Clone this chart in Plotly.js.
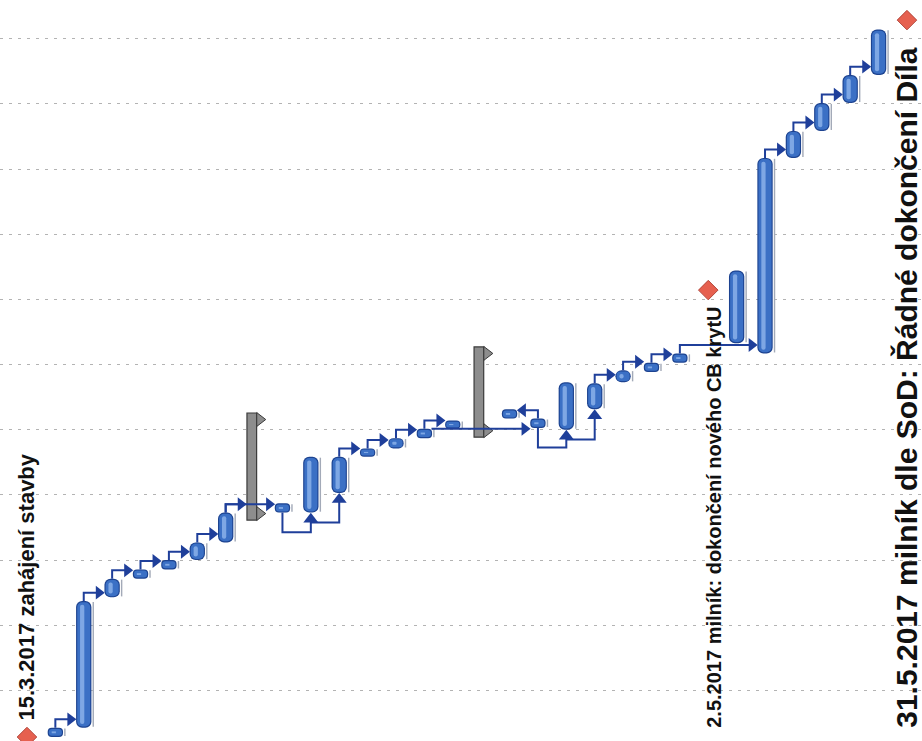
<!DOCTYPE html>
<html><head><meta charset="utf-8">
<script src="https://cdn.plot.ly/plotly-3.0.1.min.js"></script>
<style>html,body{margin:0;padding:0;background:#fff;} #chart{width:922px;height:741px;}</style>
</head><body><div id="chart"></div>
<script>
// Rotated Gantt chart. Time axis (vertical): days after 15.3.2017 (day 0).
// Horizontal axis: task row number of the original Gantt.
const gridDays = [5, 12, 19, 26, 33, 40, 47, 54, 61, 68, 75];

const taskCol   = [2, 3, 4, 5, 6, 7, 8, 10, 11, 12, 13, 14, 15, 16, 18, 19, 20, 21, 22, 23, 24, 26, 27, 28, 29, 30, 31];
const taskStart = [0.0, 1.0, 15.0, 17.0, 18.0, 19.0, 20.9, 24.1, 24.1, 26.2, 30.1, 31.0, 32.1, 33.1, 34.2, 33.2, 33.0, 35.2, 38.1, 39.2, 40.2, 42.3, 41.2, 62.2, 65.1, 68.1, 71.1];
const taskEnd   = [1.0, 14.6, 17.0, 18.0, 19.0, 20.9, 24.1, 25.1, 30.1, 30.1, 31.0, 32.1, 33.1, 34.0, 35.2, 34.2, 38.1, 38.0, 39.4, 40.2, 41.2, 50.1, 62.2, 65.1, 68.1, 71.1, 76.0];

const summaryCol   = [9, 17];
const summaryStart = [23.3, 32.2];
const summaryEnd   = [34.8, 41.9];

const milestoneCol   = [1, 25, 32];
const milestoneDay   = [0, 48, 77];
const milestoneLabel = ['15.3.2017 zahájení stavby',
                        '2.5.2017 milník: dokončení nového CB krytU',
                        '31.5.2017 milník dle SoD: Řádné dokončení Díla'];

const projectCol  = [0, 0];
const projectDays = [0, 77];

// dependency links: [from row, to row]
const fsLinks     = [[2,3],[3,4],[4,5],[5,6],[6,7],[7,8],[8,9],[8,10],[12,13],[13,14],[14,15],[15,16],
                     [19,18],[21,22],[22,23],[23,24],[24,27],[27,28],[28,29],[29,30],[30,31]];
const directLinks = [[15,19]];
const ssLinks     = [[10,11],[11,12],[19,20],[20,21]];

// ---------------------------------------------------------------
function startOf(c){ let i = taskCol.indexOf(c); if (i >= 0) return taskStart[i]; return summaryStart[summaryCol.indexOf(c)]; }
function endOf(c){ let i = taskCol.indexOf(c); if (i >= 0) return taskEnd[i]; return summaryEnd[summaryCol.indexOf(c)]; }

const durs = taskStart.map((s, i) => taskEnd[i] - s);

function capsule(width, offset, color, radius, shrink){
  return {type:'bar', x:taskCol, base:taskStart.map(s => s + shrink), y:durs.map(d => Math.max(d - 2 * shrink, 0.12)),
          width:width, offset:offset, marker:{color:color, cornerradius:radius, line:{width:0}},
          hoverinfo:'skip', showlegend:false};
}

const traces = [];

// summary bars (grey)
traces.push({type:'bar', x:summaryCol, base:summaryStart, y:summaryStart.map((s,i)=>summaryEnd[i]-s),
  width:0.34, offset:-0.25, marker:{color:'#8d8d8d', line:{color:'#3a3a3a', width:1.2}},
  hoverinfo:'skip', showlegend:false});

// task shadow line
traces.push({type:'bar', x:taskCol, base:taskStart.map(s=>s+0.1), y:durs.map(d=>Math.max(d-0.2,0.1)),
  width:0.05, offset:0.31, marker:{color:'#a3aab8', line:{width:0}}, hoverinfo:'skip', showlegend:false});

// task capsules
traces.push(capsule(0.54, -0.27, '#1d4390', 6, 0));
traces.push(capsule(0.46, -0.23, '#3b70c5', 5, 0.13));
traces.push(capsule(0.15, -0.13, '#7ea7e4', 3, 0.4));

// summary end caps
const capX = [], capY = [];
summaryCol.forEach((c, i) => { capX.push(c + 0.2, c + 0.2); capY.push(summaryEnd[i] - 0.7, summaryStart[i] + 0.7); });
traces.push({type:'scatter', mode:'markers', x:capX, y:capY,
  marker:{symbol:'triangle-right', size:12, color:'#8d8d8d', line:{color:'#3a3a3a', width:1}},
  hoverinfo:'skip', showlegend:false});

// links
const LIFT = 0.9, AOFF = 0.47, DROP = 2.1, UPOFF = 0.7;
const lx = [], ly = [];
const aR = {x:[], y:[]}, aL = {x:[], y:[]}, aU = {x:[], y:[]};
fsLinks.forEach(([a, b]) => {
  const y0 = endOf(a), y1 = y0 + LIFT, dir = b > a ? 1 : -1, xe = b - dir * AOFF;
  lx.push(a, a, xe, null); ly.push(y0, y1, y1, null);
  const t = dir > 0 ? aR : aL; t.x.push(xe); t.y.push(y1);
});
directLinks.forEach(([a, b]) => {
  const y0 = endOf(a), xe = b - AOFF;
  lx.push(a + 0.25, xe, null); ly.push(y0, y0, null);
  aR.x.push(xe); aR.y.push(y0);
});
const ssTargets = ssLinks.map(l => l[1]);
ssLinks.forEach(([a, b]) => {
  const sa = startOf(a), sb = startOf(b);
  const hasIn = ssTargets.includes(a);
  const yh = hasIn ? sa - UPOFF - 0.35 : sa - DROP;
  const y0 = hasIn ? yh : sa;
  const ya = sb - UPOFF;
  lx.push(a, a, b, b, null); ly.push(y0, yh, yh, ya, null);
  aU.x.push(b); aU.y.push(ya);
});
const linkColor = '#1f3f9a';
traces.push({type:'scatter', mode:'lines', x:lx, y:ly, line:{color:linkColor, width:2},
  hoverinfo:'skip', showlegend:false, connectgaps:false});
traces.push({type:'scatter', mode:'markers', x:aR.x, y:aR.y, marker:{symbol:'triangle-right', size:12, color:linkColor}, hoverinfo:'skip', showlegend:false});
traces.push({type:'scatter', mode:'markers', x:aL.x, y:aL.y, marker:{symbol:'triangle-left', size:12, color:linkColor}, hoverinfo:'skip', showlegend:false});
traces.push({type:'scatter', mode:'markers', x:aU.x, y:aU.y, marker:{symbol:'triangle-up', size:13, color:linkColor}, hoverinfo:'skip', showlegend:false});

// milestones
traces.push({type:'scatter', mode:'markers', x:milestoneCol, y:milestoneDay,
  marker:{symbol:'diamond', size:15, color:'#e6604f', line:{color:'#b2463b', width:1}},
  hoverinfo:'skip', showlegend:false, cliponaxis:false});
traces.push({type:'scatter', mode:'markers', x:projectCol, y:projectDays,
  marker:{symbol:'diamond', size:12, color:'#222222'}, hoverinfo:'skip', showlegend:false});

function labelFont(size){ return {family:'Liberation Sans, Arial, sans-serif', size:size, color:'#111111', weight:'bold'}; }
const annotations = [
  {x:milestoneCol[0], y:milestoneDay[0] + 1.6, xref:'x', yref:'y', text:'<b>' + milestoneLabel[0] + '</b>', showarrow:false,
   textangle:-90, xanchor:'center', yanchor:'bottom', font:labelFont(22)},
  {x:milestoneCol[1], y:milestoneDay[1] - 1.6, xref:'x', yref:'y', text:'<b>' + milestoneLabel[1] + '</b>', showarrow:false,
   textangle:-90, xanchor:'center', yanchor:'top', xshift:5, font:labelFont(20)},
  {x:milestoneCol[2], y:milestoneDay[2] - 2.6, xref:'x', yref:'y', text:'<b>' + milestoneLabel[2] + '</b>', showarrow:false,
   textangle:-90, xanchor:'center', yanchor:'top', font:labelFont(30)}
];

const layout = {
  width:922, height:741, margin:{l:0, r:0, t:0, b:0, pad:0},
  paper_bgcolor:'#ffffff', plot_bgcolor:'#ffffff', barmode:'overlay', showlegend:false,
  xaxis:{range:[0.05, 32.53], visible:false, fixedrange:true},
  yaxis:{range:[-0.43, 79.16], tickvals:gridDays, showticklabels:false, ticks:'',
         showgrid:true, gridcolor:'#b3b3b3', griddash:'3px,6px', gridwidth:1, zeroline:false, showline:false, fixedrange:true},
  annotations:annotations
};

Plotly.newPlot('chart', traces, layout, {staticPlot:true, displayModeBar:false});
</script>
</body></html>
